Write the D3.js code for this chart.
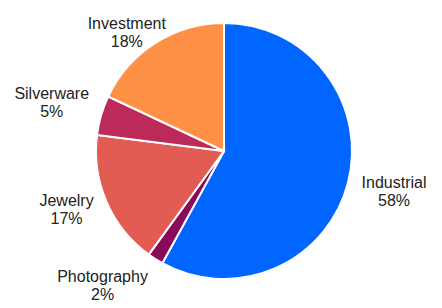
<!DOCTYPE html>
<html>
<head>
<meta charset="utf-8">
<script src="https://cdn.jsdelivr.net/npm/d3@7"></script>
<style>
  body { margin: 0; background: #fff; }
  text { font-family: "Liberation Sans", Arial, sans-serif; }
</style>
</head>
<body>
<div id="chart"></div>
<script>
const categories = ["Industrial", "Photography", "Jewelry", "Silverware", "Investment"]
const shares = [58, 2, 17, 5, 18]
const colors = ["#0066ff", "#8a0a5a", "#e35c54", "#bc2a5a", "#ff9147"]

const width = 442, height = 308
const cx = 224, cy = 151, radius = 128

let svg = d3.select("#chart")
    .append("svg")
    .attr("width", width)
    .attr("height", height)

let g = svg.append("g")
    .attr("transform", "translate(" + cx + "," + cy + ")")

let data = categories.map((c, i) => ({name: c, value: shares[i]}))

let pie = d3.pie().sort(null).value(d => d.value)
let arc = d3.arc().innerRadius(0).outerRadius(radius)
let color = d3.scaleOrdinal().domain(categories).range(colors)

let arcs = pie(data)

g.selectAll("path")
    .data(arcs)
    .enter()
    .append("path")
    .attr("d", arc)
    .attr("fill", d => color(d.data.name))
    .attr("stroke", "#fff")
    .attr("stroke-width", 2)

// labels sit outside the pie, pushed away from it
const labelR = 142, lineH = 18, fontSize = 16
// small hand tweaks so the left labels don't hug their neighbours
const labelNudge = {Jewelry: -6, Silverware: -10}

let labels = g.selectAll("g.label")
    .data(arcs)
    .enter()
    .append("g")
    .attr("class", "label")

labels.each(function(d) {
    let a = (d.startAngle + d.endAngle) / 2
    let s = Math.sin(a), c = Math.cos(a)
    let x = labelR * s, y = -labelR * c
    let sel = d3.select(this)
    let lines = [d.data.name, d.data.value + "%"]
    let t = sel.append("text")
        .attr("font-size", fontSize)
        .attr("fill", "#222")
        .attr("text-anchor", "middle")
    lines.forEach((l, i) => {
        t.append("tspan").attr("x", 0).attr("dy", i == 0 ? 0 : lineH).text(l)
    })
    let w = t.node().getBBox().width
    // upper half: slide by sin, lower half: hang fully to the side
    let k = c > 0 ? s : Math.sign(s)
    let xc = x + (w / 2) * k
    let yc = y + Math.max(0, -c) * 16 + 2 + (labelNudge[d.data.name] || 0)
    // yc is the middle of the two-line block
    t.attr("transform", "translate(" + xc + "," + (yc - lineH / 2 + 5) + ")")
})

// source note, mostly cropped off the bottom edge
svg.append("text")
    .attr("x", 343)
    .attr("y", 317)
    .attr("font-size", 12)
    .attr("fill", "#ccc")
    .text("Data: The Silver Institute")
</script>
</body>
</html>
